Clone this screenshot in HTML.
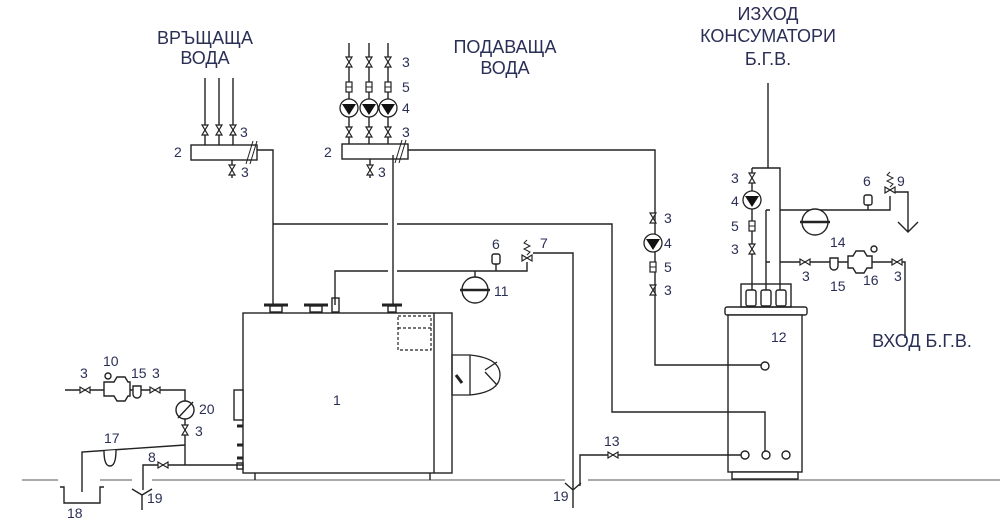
<!DOCTYPE html>
<html><head><meta charset="utf-8"><style>
html,body{margin:0;padding:0;background:#fff}
svg{display:block}
text{font-family:"Liberation Sans",sans-serif;fill:#2a2f55}
.t{font-size:18px}
.n{font-size:14px}
</style></head><body>
<svg width="1000" height="524" viewBox="0 0 1000 524" xmlns="http://www.w3.org/2000/svg">
<defs>
<g id="vv"><polygon points="-3,-5 3,-5 -3,5 3,5" fill="#fff" stroke="#222" stroke-width="1.2"/></g>
<g id="vh"><polygon points="-5,-3 -5,3 5,-3 5,3" fill="#fff" stroke="#222" stroke-width="1.2"/></g>
<g id="m"><rect x="-3" y="-5" width="6" height="10" fill="#fff" stroke="#222" stroke-width="1.2"/><line x1="-3" y1="0" x2="3" y2="0" stroke="#222"/></g>
<g id="p"><circle r="9" fill="#fff" stroke="#222" stroke-width="1.3"/><polygon points="-7,-4 7,-4 0,7" fill="#111"/></g>
</defs>
<g stroke="#222" stroke-width="1.4" fill="none">
<!-- floor -->
<path d="M22 480H58M100 480H132M152 480H565M588 480H1000" stroke="#555" stroke-width="1"/>
<!-- tank (behind lines) -->
<rect x="725" y="307" width="82" height="8" rx="2" fill="#fff"/>
<rect x="728" y="315" width="74" height="157" fill="#fff"/>
<rect x="732" y="472" width="66" height="7" fill="#fff"/>
<!-- left return manifold -->
<path d="M205 78V145M219 78V145M233 78V145"/>
<rect x="191" y="145" width="66" height="15" fill="#fff"/>
<path d="M253 141L246 164M257 141L250 164" stroke-width="1"/>
<path d="M257 150H273V305M232 160V178"/>
<!-- right supply manifold -->
<path d="M349 43V144M369 43V144M388 43V144"/>
<rect x="342" y="144" width="66" height="15" fill="#fff"/>
<path d="M402 140L395 163M406 140L399 163" stroke-width="1"/>
<path d="M408 150H655V365H761M370 159V178M393 155V305"/>
<!-- y224 line -->
<path d="M273 224H388M397 224H612V412H765V451"/>
<!-- y271 line -->
<path d="M335 305V271H388M397 271H527V262M533 253H573V490"/>
<path d="M475 271V278M496 271V264"/>
<!-- boiler flanges -->
<path d="M264 305H288M304 305H328" stroke-width="3"/>
<rect x="270" y="306" width="12" height="6"/><rect x="310" y="306" width="12" height="6"/>
<rect x="332" y="298" width="7" height="14"/>
<path d="M382 305H402" stroke-width="3"/><rect x="388" y="306" width="8" height="6"/>
<!-- boiler -->
<rect x="243" y="313" width="209" height="160" fill="#fff"/>
<path d="M434 313V473M255 473V480M430 473V480"/>
<rect x="398" y="316" width="33" height="34" stroke-dasharray="3,2" stroke-width="1.2"/>
<path d="M398 328H431" stroke-dasharray="3,2" stroke-width="1.2"/>
<path d="M452 355H470Q500 358 500 375Q500 392 470 395H452ZM470 355V395M485 370L497 362M485 372L497 385" stroke-width="1.3"/>
<path d="M456 375L462 383" stroke-width="3"/>
<rect x="234" y="390" width="9" height="30" fill="#fff"/>
<path d="M237 426h6M237 445h6M237 458h6" stroke-width="3"/>
<rect x="237" y="463" width="6" height="6"/>
<!-- expansion vessel 11 & gauge 6 -->
<path d="M462 290A13 13 0 0 1 488 290A13 13 0 0 1 462 290Z" fill="#fff"/><path d="M460 290H490" stroke-width="2.5"/>
<rect x="492" y="254" width="8" height="10" rx="2" fill="#fff"/>
<path d="M527 240l-3 3 6 3-6 3 6 3-3 3" stroke-width="1"/>
<!-- left side water inlet -->
<path d="M65 390H185V465M243 465H143V490M185 445L82 452V492M60 487H64V503H100V487H104"/>
<path d="M104 451Q104 466 110 466Q116 466 116 450" fill="#fff"/>
<path d="M132 489L142 495L152 489M142 495V510" />
<path d="M565 483L573 490L581 483M573 490V508M741 455H580V486"/>
<path d="M104 382h10l3-5h8l3 5h2v14h-2l-3 5h-8l-3-5h-10Z" fill="#fff"/>
<circle cx="108" cy="376" r="3"/>
<path d="M133 386v8a4 4 0 0 0 8 0v-8Z" fill="#fff"/>
<circle cx="185" cy="410" r="9" fill="#fff"/><path d="M178 418L193 402" />
<!-- tank top -->
<rect x="741" y="284" width="50" height="23"/>
<rect x="746" y="290" width="10" height="16" rx="2"/><rect x="761" y="290" width="10" height="16" rx="2"/><rect x="776" y="290" width="10" height="16" rx="2"/>
<circle cx="765" cy="366" r="4" fill="#fff"/><circle cx="745" cy="455" r="4" fill="#fff"/><circle cx="766" cy="455" r="4" fill="#fff"/><circle cx="786" cy="455" r="4" fill="#fff"/>
<path d="M768 83V168M752 168H780V290M752 168V290M766 210V290M766 210H770M780 210H890V196M766 262H770M780 262H905V338"/>
<path d="M815 210V214M868 210V205M895 192H908V232M898 222L908 232L918 222"/>
<path d="M802 222A13 13 0 0 1 828 222A13 13 0 0 1 802 222Z" fill="#fff"/><path d="M800 222H830" stroke-width="2.5"/>
<rect x="864" y="195" width="8" height="10" rx="2" fill="#fff"/>
<path d="M890 172l-3 3 6 3-6 3 6 3-3 3" stroke-width="1"/>
<path d="M830 258v8a4 4 0 0 0 8 0v-8Z" fill="#fff"/>
<path d="M848 256h5l3-5h8l3 5h5v12h-5l-3 5h-8l-3-5h-5Z" fill="#fff"/><circle cx="874" cy="249" r="3"/>
</g>
<!-- valves etc -->
<use href="#vv" x="205" y="130"/><use href="#vv" x="219" y="130"/><use href="#vv" x="233" y="130"/><use href="#vv" x="232" y="170"/>
<use href="#vv" x="349" y="62"/><use href="#vv" x="369" y="62"/><use href="#vv" x="388" y="62"/>
<use href="#m" x="349" y="87"/><use href="#m" x="369" y="87"/><use href="#m" x="388" y="87"/>
<use href="#p" x="349" y="108"/><use href="#p" x="369" y="108"/><use href="#p" x="388" y="108"/>
<use href="#vv" x="349" y="132"/><use href="#vv" x="369" y="132"/><use href="#vv" x="388" y="132"/><use href="#vv" x="370" y="170"/>
<use href="#vv" x="653" y="218"/><use href="#p" x="653" y="243"/><use href="#m" x="653" y="267"/><use href="#vv" x="653" y="290"/>
<use href="#vv" x="752" y="178"/><use href="#p" x="752" y="200"/><use href="#m" x="752" y="226"/><use href="#vv" x="752" y="249"/>
<use href="#vh" x="805" y="262"/><use href="#vh" x="897" y="262"/><use href="#vh" x="890" y="190"/><use href="#vh" x="527" y="258"/>
<use href="#vh" x="85" y="390"/><use href="#vh" x="155" y="390"/><use href="#vv" x="185" y="430"/><use href="#vh" x="163" y="465"/><use href="#vh" x="613" y="455"/>
<!-- titles -->
<text class="t" x="205" y="44" text-anchor="middle">ВРЪЩАЩА</text>
<text class="t" x="205" y="64" text-anchor="middle">ВОДА</text>
<text class="t" x="505" y="53" text-anchor="middle">ПОДАВАЩА</text>
<text class="t" x="505" y="74" text-anchor="middle">ВОДА</text>
<text class="t" x="768" y="20" text-anchor="middle">ИЗХОД</text>
<text class="t" x="768" y="42" text-anchor="middle">КОНСУМАТОРИ</text>
<text class="t" x="768" y="65" text-anchor="middle">Б.Г.В.</text>
<text class="t" x="922" y="347" text-anchor="middle">ВХОД Б.Г.В.</text>
<!-- numbers -->
<g class="n">
<text x="240" y="137" class="n">3</text><text x="174" y="157" class="n">2</text><text x="241" y="177" class="n">3</text>
<text x="402" y="67" class="n">3</text><text x="402" y="92" class="n">5</text><text x="402" y="113" class="n">4</text><text x="402" y="137" class="n">3</text>
<text x="324" y="157" class="n">2</text><text x="378" y="177" class="n">3</text>
<text x="664" y="223" class="n">3</text><text x="664" y="248" class="n">4</text><text x="664" y="272" class="n">5</text><text x="664" y="295" class="n">3</text>
<text x="492" y="249" class="n">6</text><text x="540" y="248" class="n">7</text><text x="494" y="296" class="n">11</text>
<text x="333" y="405" class="n">1</text><text x="771" y="342" class="n">12</text>
<text x="731" y="183" class="n">3</text><text x="731" y="206" class="n">4</text><text x="731" y="231" class="n">5</text><text x="731" y="254" class="n">3</text>
<text x="863" y="186" class="n">6</text><text x="897" y="186" class="n">9</text><text x="830" y="247" class="n">14</text>
<text x="802" y="281" class="n">3</text><text x="830" y="291" class="n">15</text><text x="863" y="285" class="n">16</text><text x="894" y="281" class="n">3</text>
<text x="604" y="446" class="n">13</text><text x="553" y="501" class="n">19</text><text x="147" y="503" class="n">19</text>
<text x="67" y="518" class="n">18</text><text x="104" y="443" class="n">17</text><text x="148" y="462" class="n">8</text>
<text x="80" y="378" class="n">3</text><text x="103" y="366" class="n">10</text><text x="131" y="378" class="n">15</text><text x="152" y="378" class="n">3</text>
<text x="199" y="414" class="n">20</text><text x="195" y="436" class="n">3</text>
</g>
</svg>
</body></html>
